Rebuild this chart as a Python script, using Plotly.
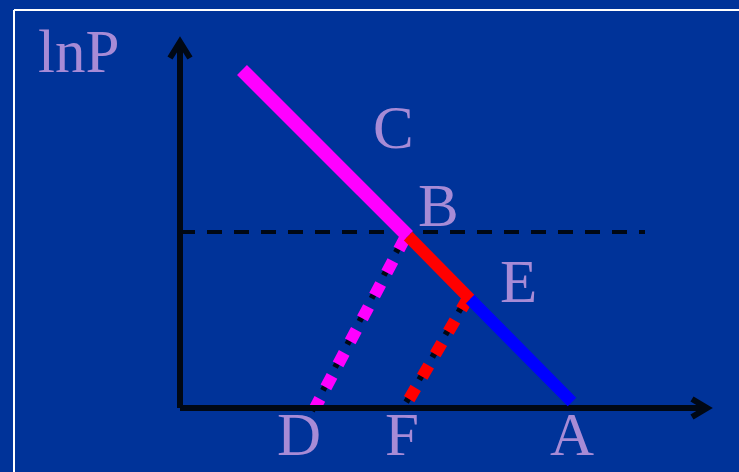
import plotly.graph_objects as go

# Diagram geometry (pixel-like diagram units, y grows downward)
BORDER_X = [14, 14, 760, 760, 14]
BORDER_Y = [10, 490, 490, 10, 10]

Y_AXIS_X = [180, 180]
Y_AXIS_Y = [408, 42]
Y_ARROW_X = [170, 180, 190]
Y_ARROW_Y = [58, 42, 58]

X_AXIS_X = [180, 707]
X_AXIS_Y = [408, 408]
X_ARROW_X = [692, 707, 692]
X_ARROW_Y = [399, 408, 417]

# main curve segments: C-B (magenta), B-E (red), E-A (blue)
CB_X = [242, 408]
CB_Y = [70, 236]
BE_X = [408, 470]
BE_Y = [236, 299]
EA_X = [470, 572]
EA_Y = [299, 402]

DASH_X = [180, 645]
DASH_Y = [232, 232]

BD_X = [405, 315]
BD_Y = [238, 408]
EF_X = [468, 404]
EF_Y = [298, 408]

LABELS = ["lnP", "C", "B", "E", "D", "F", "A"]
LABEL_X = [78, 393, 438, 518, 299, 402, 572]
LABEL_Y = [51, 127, 205, 281, 434, 434, 434]

BG = "#003399"
TXT = "#a78bd6"

fig = go.Figure()

def line(x, y, color, width, dash=None):
    fig.add_trace(go.Scatter(x=x, y=y, mode="lines", hoverinfo="skip",
                             showlegend=False,
                             line=dict(color=color, width=width, dash=dash)))

line(BORDER_X, BORDER_Y, "white", 2)
line(DASH_X, DASH_Y, "#000814", 4, "15px,12px")

# dotted connectors: black shadow then colour
line([x - 3 for x in BD_X], [y + 3 for y in BD_Y], "#000814", 6, "13px,13px")
line(BD_X, BD_Y, "#ff00ff", 12, "13px,13px")
line([x - 3 for x in EF_X], [y + 3 for y in EF_Y], "#000814", 6, "13px,13px")
line(EF_X, EF_Y, "#ff0000", 12, "13px,13px")

line(Y_AXIS_X, Y_AXIS_Y, "#000814", 6)
line(Y_ARROW_X, Y_ARROW_Y, "#000814", 6)
line(X_AXIS_X, X_AXIS_Y, "#000814", 6)
line(X_ARROW_X, X_ARROW_Y, "#000814", 6)

line(EA_X, EA_Y, "#0000ff", 12)
line(BE_X, BE_Y, "#ff0000", 12)
line(CB_X, CB_Y, "#ff00ff", 14)

for t, x, y in zip(LABELS, LABEL_X, LABEL_Y):
    fig.add_annotation(x=x, y=y, text=t, showarrow=False,
                       xanchor="center", yanchor="middle",
                       font=dict(family="Liberation Serif", size=61, color=TXT))

fig.update_layout(
    width=739, height=472,
    margin=dict(l=0, r=0, t=0, b=0),
    paper_bgcolor=BG, plot_bgcolor=BG,
    xaxis=dict(range=[0, 739], visible=False, fixedrange=True),
    yaxis=dict(range=[472, 0], visible=False, fixedrange=True),
)

fig.write_html("out.html", config={"displayModeBar": False},
               post_script="document.body.style.margin='0';document.body.style.overflow='hidden';document.body.style.background='" + BG + "';")
